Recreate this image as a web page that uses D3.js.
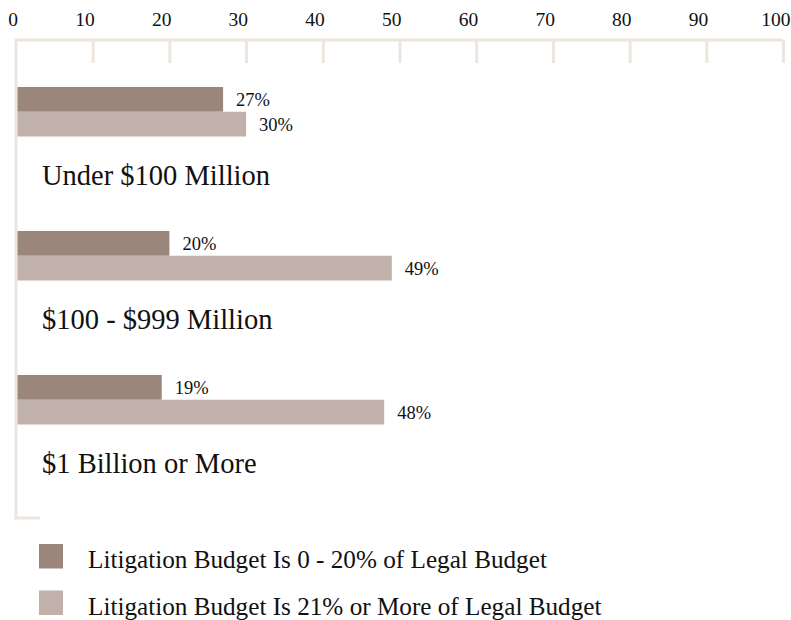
<!DOCTYPE html>
<html><head><meta charset="utf-8">
<script src="https://cdn.jsdelivr.net/npm/d3@7"></script>
<style>body{margin:0;background:#fff}svg{display:block}</style>
</head><body>
<script>
const categories = ["Under $100 Million", "$100 - $999 Million", "$1 Billion or More"];
const seriesNames = ["Litigation Budget Is 0 - 20% of Legal Budget", "Litigation Budget Is 21% or More of Legal Budget"];
const lowShare = [27, 20, 19];
const highShare = [30, 49, 48];
const tickValues = [0, 10, 20, 30, 40, 50, 60, 70, 80, 90, 100];
const colors = ["#9a867b", "#c0b1aa"];

const W = 791, H = 620;
const font = "'Liberation Serif', 'Times New Roman', serif";
const svg = d3.select("body").append("svg").attr("width", W).attr("height", H);

const x = d3.scaleLinear().domain([0, 100]).range([16, 783]);
const y = d3.scaleBand().domain(categories).range([87, 87 + 3 * 144]);
const yi = d3.scaleBand().domain(seriesNames).range([0, 49.5]);
const axisColor = "#ece6de";

// axis frame
const axisY = 40;
svg.append("line").attr("x1", x(0)).attr("x2", x(100)).attr("y1", axisY).attr("y2", axisY)
  .attr("stroke", axisColor).attr("stroke-width", 3);
svg.append("line").attr("x1", x(0)).attr("x2", x(0)).attr("y1", axisY - 1.5).attr("y2", 518)
  .attr("stroke", axisColor).attr("stroke-width", 3);
svg.append("line").attr("x1", x(0) - 1.5).attr("x2", 40).attr("y1", 518).attr("y2", 518)
  .attr("stroke", axisColor).attr("stroke-width", 3);

const axis = d3.axisTop(x).tickValues(tickValues).tickSize(0).tickPadding(0);
const gAxis = svg.append("g").attr("transform", `translate(0,${axisY})`).call(axis);
gAxis.select(".domain").remove();
gAxis.selectAll(".tick text").attr("y", -14.5).attr("text-anchor", "end")
  .attr("dx", d => d === 100 ? 7 : 1.5)
  .attr("font-family", font).attr("font-size", 19.5).attr("fill", "#111");
gAxis.selectAll(".tick").filter(d => d > 0).append("line")
  .attr("y1", 0).attr("y2", 23).attr("stroke", axisColor).attr("stroke-width", 3);

const data = categories.map((c, i) => ({ cat: c, vals: [lowShare[i], highShare[i]] }));
const groups = svg.selectAll("g.grp").data(data).join("g").attr("class", "grp")
  .attr("transform", d => `translate(0,${y(d.cat)})`);

groups.selectAll("rect").data(d => d.vals.map((v, k) => ({ v, k }))).join("rect")
  .attr("x", x(0) + 1.5).attr("y", d => yi(seriesNames[d.k]))
  .attr("width", d => x(d.v) - x(0) - 1.5).attr("height", yi.bandwidth())
  .attr("fill", d => colors[d.k]);

groups.selectAll("text.val").data(d => d.vals.map((v, k) => ({ v, k }))).join("text")
  .attr("class", "val")
  .attr("x", d => x(d.v) + 13).attr("y", d => yi(seriesNames[d.k]) + 19)
  .attr("font-family", font).attr("font-size", 18.5).attr("fill", "#111")
  .text(d => d.v + "%");

groups.append("text").attr("x", 42).attr("y", 98)
  .attr("font-family", font).attr("font-size", 28.5).attr("fill", "#111")
  .text(d => d.cat);

const leg = svg.selectAll("g.leg").data(seriesNames).join("g").attr("class", "leg")
  .attr("transform", (d, i) => `translate(39,${544 + i * 46.5})`);
leg.append("rect").attr("width", 24).attr("height", 24.5).attr("fill", (d, i) => colors[i]);
leg.append("text").attr("x", 49).attr("y", 24)
  .attr("font-family", font).attr("font-size", 25.2).attr("fill", "#111").text(d => d);
</script>
</body></html>
